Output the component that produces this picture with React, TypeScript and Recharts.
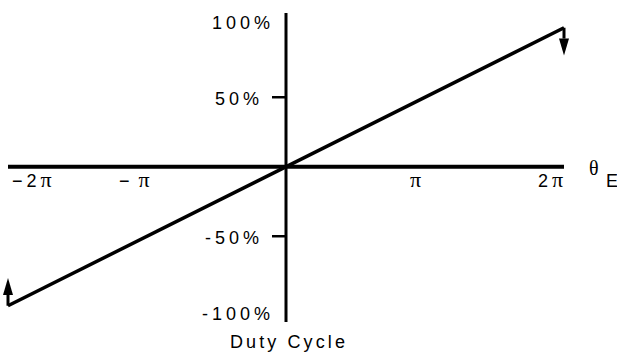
import React from "react";
import { LineChart, Line, XAxis, YAxis, ReferenceLine, Label } from "recharts";

// electrical angle in multiples of pi, duty cycle in %
const theta = [-2, 2];
const dutyCycle = [-100, 100];

const xTicks = [-2, -1, 1, 2];
const xTickLabels = ["−2", "− ", "", "2"]; // each followed by a pi
const yTicks = [100, 50, -50, -100];
const yTickLabels = ["100%", "50%", "-50%", "-100%"];

// small arrows hanging off both ends of the line
const arrowX = [2, -2];
const arrowFrom = [100, -100];
const arrowTo = [80, -80];

const W = 617;
const H = 354;
const MARGIN = { top: 13, right: 53, bottom: 30, left: 6 };
const PLOT_LEFT = 8;
const PLOT_BOTTOM = 322;
const AXIS_X = PLOT_LEFT + (W - PLOT_LEFT - MARGIN.right) / 2;
const Y_DOMAIN = [-111.7, 110.6];
const AXIS_Y =
  MARGIN.top + ((PLOT_BOTTOM - MARGIN.top) * Y_DOMAIN[1]) / (Y_DOMAIN[1] - Y_DOMAIN[0]);

const SANS = "'Liberation Sans', Arial, sans-serif";
const SERIF = "'Liberation Serif', 'Times New Roman', serif";

const data = theta.map((t, i) => ({ theta: t, duty: dutyCycle[i] }));

// left edge of each x label relative to its tick
const X_SHIFT: Record<string, number> = { "-2": 4, "-1": -28, "1": -15, "2": -26 };

function XTick(props: any) {
  const { x, payload } = props;
  const i = xTicks.indexOf(payload.value);
  return (
    <text
      x={x + (X_SHIFT[String(payload.value)] || 0)}
      y={AXIS_Y + 20.5}
      textAnchor="start"
      fontFamily={SANS}
      fontSize={18}
      letterSpacing={4}
      wordSpacing={-4}
      fill="#000"
    >
      {xTickLabels[i]}
      <tspan fontFamily={SERIF} fontSize={22}>π</tspan>
    </text>
  );
}

function YTick(props: any) {
  const { y, payload } = props;
  const v = payload.value;
  const i = yTicks.indexOf(v);
  const big = Math.abs(v) === 100;
  const dy = v === 100 ? 1.5 : v === -100 ? 14 : 7.5;
  const right = big ? AXIS_X - 16 : AXIS_X - 27;
  return (
    <g>
      {!big && (
        <line x1={AXIS_X - 14} x2={AXIS_X} y1={y} y2={y} stroke="#000" strokeWidth={2.5} />
      )}
      <text
        x={right + 4}
        y={y + dy}
        textAnchor="end"
        fontFamily={SANS}
        fontSize={18}
        letterSpacing={4}
        fill="#000"
      >
        {yTickLabels[i]}
      </text>
    </g>
  );
}

function Arrow(props: any) {
  const { x1, y1, x2, y2 } = props;
  const dir = y2 > y1 ? 1 : -1;
  const head = 17;
  return (
    <g>
      <line x1={x1} y1={y1} x2={x2} y2={y2 - dir * head} stroke="#000" strokeWidth={3} />
      <polygon
        points={`${x2 - 5},${y2 - dir * head} ${x2 + 5},${y2 - dir * head} ${x2},${y2}`}
        fill="#000"
      />
    </g>
  );
}

function ThetaLabel(props: any) {
  const vb = props.viewBox || {};
  const end = vb.x + vb.width;
  return (
    <g>
      <text x={end + 25} y={AXIS_Y + 8.5} fontFamily={SERIF} fontSize={20} fill="#000">
        θ
      </text>
      <text x={end + 42} y={AXIS_Y + 20.5} fontFamily={SANS} fontSize={18} fill="#000">
        E
      </text>
    </g>
  );
}

function DutyLabel(props: any) {
  const vb = props.viewBox || {};
  return (
    <text
      x={vb.x + 3}
      y={vb.y + vb.height + 26}
      textAnchor="middle"
      fontFamily={SANS}
      fontSize={18}
      letterSpacing={3.1}
      fill="#000"
    >
      Duty Cycle
    </text>
  );
}

export default function App() {
  return (
    <div style={{ position: "absolute", left: 0, top: 0, background: "#fff" }}>
      <LineChart width={W} height={H} data={data} margin={MARGIN}>
        <XAxis
          dataKey="theta"
          type="number"
          domain={[-2, 2]}
          ticks={xTicks}
          interval={0}
          axisLine={false}
          tickLine={false}
          height={2}
          tick={XTick}
        />
        <YAxis
          type="number"
          domain={Y_DOMAIN}
          allowDataOverflow
          ticks={yTicks}
          interval={0}
          axisLine={false}
          tickLine={false}
          width={2}
          tick={YTick}
        />
        <ReferenceLine y={0} stroke="#000" strokeWidth={4}>
          <Label content={ThetaLabel} />
        </ReferenceLine>
        <ReferenceLine x={0} stroke="#000" strokeWidth={3}>
          <Label content={DutyLabel} />
        </ReferenceLine>
        <Line
          dataKey="duty"
          stroke="#000"
          strokeWidth={3.5}
          dot={false}
          isAnimationActive={false}
        />
        {arrowX.map((ax, i) => (
          <ReferenceLine
            key={i}
            segment={[
              { x: ax, y: arrowFrom[i] },
              { x: ax, y: arrowTo[i] },
            ]}
            shape={Arrow}
          />
        ))}
      </LineChart>
    </div>
  );
}
